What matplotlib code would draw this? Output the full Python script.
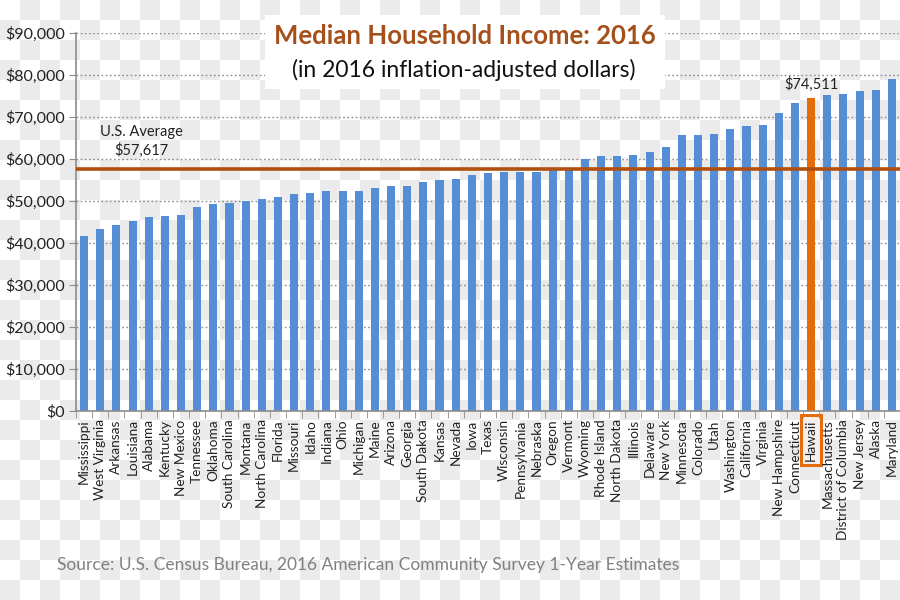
import numpy as np
import matplotlib
matplotlib.use("Agg")
import matplotlib.pyplot as plt
from matplotlib.patches import Rectangle
from matplotlib.colors import ListedColormap

plt.rcParams['font.family'] = ['Lato', 'DejaVu Sans']

states = ["Mississippi", "West Virginia", "Arkansas", "Louisiana", "Alabama", "Kentucky",
          "New Mexico", "Tennessee", "Oklahoma", "South Carolina", "Montana", "North Carolina",
          "Florida", "Missouri", "Idaho", "Indiana", "Ohio", "Michigan", "Maine", "Arizona",
          "Georgia", "South Dakota", "Kansas", "Nevada", "Iowa", "Texas", "Wisconsin",
          "Pennsylvania", "Nebraska", "Oregon", "Vermont", "Wyoming", "Rhode Island",
          "North Dakota", "Illinois", "Delaware", "New York", "Minnesota", "Colorado", "Utah",
          "Washington", "California", "Virginia", "New Hampshire", "Connecticut", "Hawaii",
          "Massachusetts", "District of Columbia", "New Jersey", "Alaska", "Maryland"]
income = [41754, 43385, 44334, 45146, 46257, 46535, 46748, 48547, 49176, 49501, 50027, 50584,
          50860, 51746, 51807, 52314, 52334, 52492, 53079, 53558, 53559, 54467, 54935, 55180,
          56247, 56565, 56811, 56907, 56927, 57532, 57677, 59882, 60596, 60656, 60960, 61757,
          62909, 65599, 65685, 65977, 67106, 67739, 68114, 70936, 73433, 74511, 75297, 75506,
          76126, 76440, 78945]
us_average = 57617
highlight = "Hawaii"
yticks = [0, 10000, 20000, 30000, 40000, 50000, 60000, 70000, 80000, 90000]

BLUE = "#558ed5"
ORANGE = "#e46c0a"
BROWN = "#b0500f"

fig = plt.figure(figsize=(9, 6), dpi=100)

# checkerboard background
bg = fig.add_axes([0, 0, 1, 1], zorder=-10)
cells_x, cells_y = 45, 30
ii, jj = np.meshgrid(np.arange(cells_x), np.arange(cells_y))
pat = ((ii + jj) % 2).astype(float)
bg.imshow(pat, cmap=ListedColormap(["#ffffff", "#ebebeb"]), extent=[0, 1, 0, 1],
          aspect='auto', interpolation='nearest', origin='upper')
bg.axis('off')

ax = fig.add_axes([76/900, 1 - 411/600, 1 - 76/900, (411 - 33)/600])
ax.set_facecolor('none')

x = np.arange(len(states))
colors = [ORANGE if s == highlight else BLUE for s in states]
ax.bar(x, income, width=0.5, color=colors, zorder=2)

ax.set_xlim(-0.5, len(states) - 0.5)
ax.set_ylim(0, 90000)
ax.set_yticks(yticks)
ax.set_yticklabels(["${:,}".format(v) for v in yticks], fontsize=11.5, color="#222222")
ax.yaxis.grid(True, linestyle=(0, (1.2, 1.8)), color="#8c8c8c", linewidth=1, zorder=1)
ax.set_axisbelow(True)

ax.set_xticks(x)
ax.set_xticklabels(states, rotation=90, fontsize=9.8, color="#222222")
ax.set_xticks(np.arange(-0.5, len(states)), minor=True)
ax.tick_params(axis='x', which='major', length=0, pad=6)
ax.tick_params(axis='x', which='minor', length=5, color="#8c8c8c", direction='out')
ax.tick_params(axis='y', length=5, color="#8c8c8c", direction='out', pad=3)

for side in ['top', 'right']:
    ax.spines[side].set_visible(False)
for side in ['left', 'bottom']:
    ax.spines[side].set_color("#8c8c8c")
    ax.spines[side].set_linewidth(1.2)

# highlight Hawaii label
for lbl in ax.get_xticklabels():
    if lbl.get_text() == highlight:
        lbl.set_bbox(dict(facecolor="#f6eeee", edgecolor=ORANGE, linewidth=2.2,
                          boxstyle="square,pad=0.3"))

# US average
ax.axhline(us_average, color=BROWN, linewidth=2.6, zorder=3)
ax.text(3.55, us_average + 2600, "U.S. Average\n${:,}".format(us_average), ha='center', va='bottom',
        fontsize=10.5, color="#222222", linespacing=1.35)

hi = states.index(highlight)
ax.text(hi, income[hi] + 1500, "${:,}".format(income[hi]), ha='center', va='bottom',
        fontsize=10.5, color="#222222")

# title box
ax.add_patch(Rectangle((265/900, 1 - 89/600), 400/900, 74/600, transform=fig.transFigure,
                       facecolor='white', edgecolor='none', zorder=5, clip_on=False))
fig.text(465/900, 1 - 36/600, "Median Household Income: 2016", ha='center', va='center',
         fontsize=18.5, fontweight='bold', color="#a5501a", zorder=6)
fig.text(464/900, 1 - 70/600, "(in 2016 inflation-adjusted dollars)", ha='center', va='center',
         fontsize=16.5, color="#111111", zorder=6)

fig.text(57/900, 1 - 565/600, "Source: U.S. Census Bureau, 2016 American Community Survey 1-Year Estimates",
         ha='left', va='center', fontsize=12.5, color="#808080")

fig.savefig("out.png", dpi=100)
